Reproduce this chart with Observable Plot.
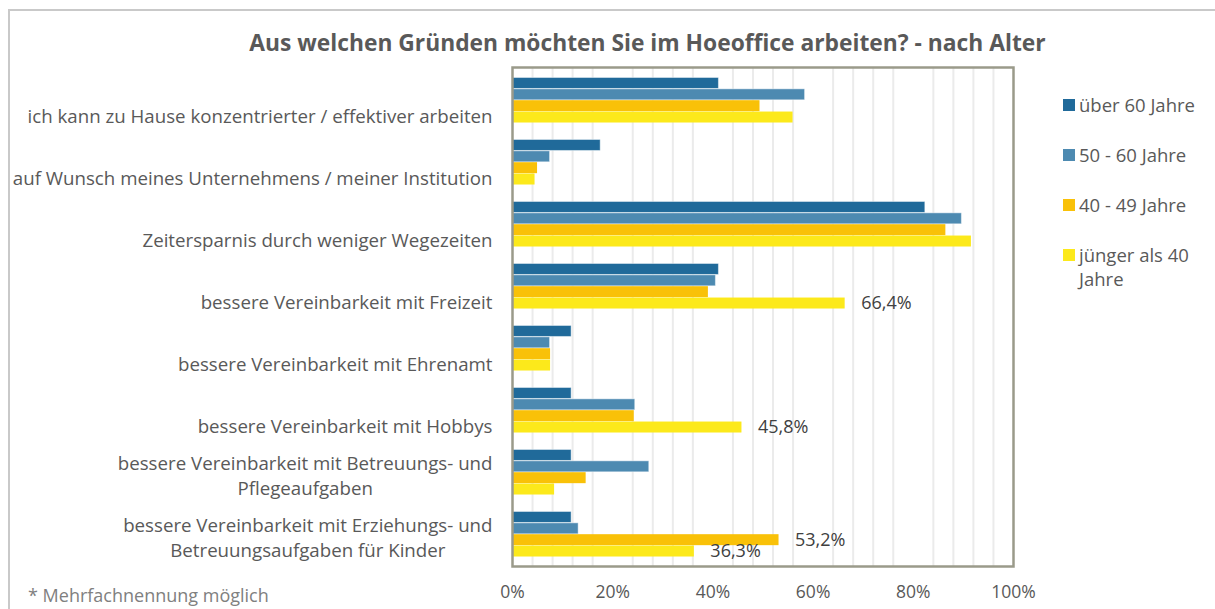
<!DOCTYPE html>
<html><head><meta charset="utf-8">
<script src="https://cdn.jsdelivr.net/npm/d3@7"></script>
<script src="https://cdn.jsdelivr.net/npm/@observablehq/plot@0.6"></script>
<style>
html,body{margin:0;padding:0;background:#fff;width:1215px;height:609px;overflow:hidden;font-family:"Open Sans",Lato,sans-serif;}
#wrap{position:relative;width:1215px;height:609px;overflow:hidden;}
#border{position:absolute;left:8px;top:9px;width:1400px;height:800px;border-top:2px solid #c9c9c9;border-left:2px solid #c9c9c9;}
#chart{position:absolute;left:0;top:0;}
#title{position:absolute;left:0;top:29px;width:1295px;text-align:center;font-weight:bold;font-size:22.8px;line-height:28px;color:#595959;}
#legend{position:absolute;left:1063px;top:0;}
.li{position:absolute;left:0;width:150px;font-size:18.5px;line-height:24px;color:#595959;}
.sw{position:absolute;left:0;top:6px;width:12px;height:12px;}
.lt{position:absolute;left:16px;top:0;width:135px;}
#foot{position:absolute;left:28px;top:583px;font-size:18px;line-height:24px;color:#808080;}
</style></head>
<body><div id="wrap"><div id="border"></div><div id="chart"></div><div id="title"></div><div id="legend"></div><div id="foot"></div></div>
<script>
const titleText = "Aus welchen Gründen möchten Sie im Hoeoffice arbeiten? - nach Alter";
const footText = "* Mehrfachnennung möglich";
const categories = [
  "ich kann zu Hause konzentrierter / effektiver arbeiten",
  "auf Wunsch meines Unternehmens / meiner Institution",
  "Zeitersparnis durch weniger Wegezeiten",
  "bessere Vereinbarkeit mit Freizeit",
  "bessere Vereinbarkeit mit Ehrenamt",
  "bessere Vereinbarkeit mit Hobbys",
  "bessere Vereinbarkeit mit Betreuungs- und\nPflegeaufgaben",
  "bessere Vereinbarkeit mit Erziehungs- und\nBetreuungsaufgaben für Kinder"
];
const seriesNames = ["über 60 Jahre", "50 - 60 Jahre", "40 - 49 Jahre", "jünger als 40 Jahre"];
const legendNames = ["über 60 Jahre", "50 - 60 Jahre", "40 - 49 Jahre", "jünger als 40<br>Jahre"];
const seriesColors = ["#206a9a", "#4d8ab1", "#f9c108", "#fce91b"];
const ueber60 = [41.2, 17.6, 82.4, 41.2, 11.8, 11.8, 11.8, 11.8];
const alter50bis60 = [58.4, 7.5, 89.7, 40.6, 7.5, 24.5, 27.3, 13.2];
const alter40bis49 = [49.4, 5.0, 86.5, 39.1, 7.6, 24.3, 14.7, 53.2];
const unter40 = [56.0, 4.5, 91.6, 66.4, 7.6, 45.8, 8.4, 36.3];
const labelCategory = [3, 5, 7, 7];
const labelSeries = [3, 3, 2, 3];
const labelText = ["66,4%", "45,8%", "53,2%", "36,3%"];
const xTicks = [0, 20, 40, 60, 80, 100];
const gridTicks = [4, 8, 12, 16, 24, 28, 32, 36, 44, 48, 52, 56, 64, 68, 72, 76, 84, 88, 92, 96];

const seriesValues = [ueber60, alter50bis60, alter40bis49, unter40];
const rows = [];
seriesValues.forEach((vals, s) => vals.forEach((v, i) => rows.push({cat: categories[i], s, value: v})));

const W = 1215, H = 609, mT = 67, mB = 43, mL = 512, mR = 202;
const band = (H - mT - mB) / categories.length;
const barH = 11.35;
const pad = (band - barH * seriesNames.length) / 2;

const font = "'Open Sans', Lato, sans-serif";
const catSize = 18.7;
const ctx = document.createElement("canvas").getContext("2d");
ctx.font = catSize + "px 'Open Sans'";

const marks = [
  Plot.ruleX(gridTicks, {stroke: "#ebebeb", strokeWidth: 2})
];
seriesNames.forEach((name, s) => {
  marks.push(Plot.barX(rows.filter(r => r.s === s), {
    x: "value", y: "cat", fill: seriesColors[s],
    stroke: s < 2 ? "white" : "none", strokeOpacity: 0.45, strokeWidth: 1,
    insetTop: pad + s * barH, insetBottom: band - pad - (s + 1) * barH
  }));
});
marks.push(Plot.frame({stroke: "#9a9a8a", strokeWidth: 2.5}));
labelText.forEach((t, k) => {
  const s = labelSeries[k];
  marks.push(Plot.text([{cat: categories[labelCategory[k]], value: seriesValues[s][labelCategory[k]], t}], {
    x: "value", y: "cat", text: "t", textAnchor: "start", dx: 16,
    dy: pad + (s + 0.5) * barH - band / 2, fontSize: 18, fill: "#404040"
  }));
});
const single = categories.filter(c => !c.includes("\n"));
marks.push(Plot.text(single, {y: d => d, text: d => d, frameAnchor: "left", textAnchor: "end", dx: -20, dy: 17, fontSize: catSize, fill: "#595959"}));
categories.filter(c => c.includes("\n")).forEach(c => {
  const [l1, l2] = c.split("\n");
  const w1 = ctx.measureText(l1).width;
  marks.push(Plot.text([c], {y: d => d, text: () => l1, frameAnchor: "left", textAnchor: "end", dx: -20, dy: -8, fontSize: catSize, fill: "#595959"}));
  marks.push(Plot.text([c], {y: d => d, text: () => l2, frameAnchor: "left", textAnchor: "middle", dx: -20 - w1 / 2, dy: 17, fontSize: catSize, fill: "#595959"}));
});

const chart = Plot.plot({
  width: W, height: H, marginTop: mT, marginBottom: mB, marginLeft: mL, marginRight: mR,
  style: {background: "transparent", fontFamily: font, fontSize: "17.5px", color: "#595959"},
  x: {domain: [0, 100], ticks: xTicks, tickSize: 0, tickPadding: 19, tickFormat: d => d + "%", label: null},
  y: {domain: categories, padding: 0, axis: null},
  marks
});
document.getElementById("chart").appendChild(chart);
document.getElementById("title").textContent = titleText;
document.getElementById("foot").textContent = footText;
const lg = document.getElementById("legend");
const legendY = [93, 143, 193, 243];
seriesNames.forEach((n, s) => {
  const it = document.createElement("div");
  it.className = "li";
  it.style.top = legendY[s] + "px";
  it.innerHTML = `<div class="sw" style="background:${seriesColors[s]}"></div><div class="lt">${legendNames[s]}</div>`;
  lg.appendChild(it);
});
</script></body></html>
